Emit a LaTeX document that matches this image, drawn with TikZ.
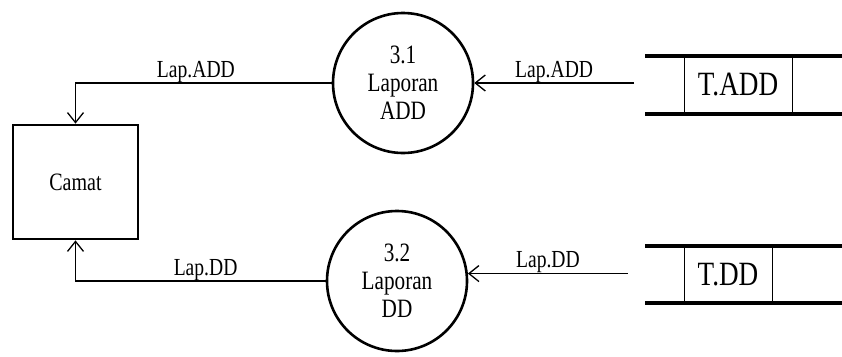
\documentclass[tikz,border=0pt]{standalone}
\usepackage{fontspec}
\setmainfont{Liberation Serif}[FakeStretch=0.8]
\usetikzlibrary{arrows.meta}
\begin{document}
\begin{tikzpicture}[x=1pt,y=-1pt,
  proc/.style={circle,draw,line width=2.6pt,minimum size=140pt,inner sep=0pt,align=center,
    font=\fontsize{26.5}{28}\selectfont},
  ent/.style={draw,line width=2.8pt,minimum width=125pt,minimum height=114pt,inner sep=0pt,
    font=\fontsize{25}{28}\selectfont},
  flow/.style={line width=1.3pt,-{Straight Barb[length=10pt,width=16pt,line width=1.3pt]}},
  lbl/.style={font=\fontsize{24.5}{26}\selectfont,inner sep=0pt,above},
  storeline/.style={line width=3.6pt},
  storebox/.style={draw,line width=1pt,inner sep=0pt,font=\fontsize{34}{36}\selectfont}]
\useasboundingbox (0,0) rectangle (842,356);
\node[ent] (camat) at (75.5,182) {Camat};
\node[proc] (p1) at (403,83) {3.1\\Laporan\\ADD};
\node[proc] (p2) at (397,281) {3.2\\Laporan\\DD};
% store T.ADD
\coordinate (s1tl) at (645,56);
\coordinate (s1tr) at (842,56);
\coordinate (s1bl) at (645,114);
\coordinate (s1br) at (842,114);
\node[storebox,minimum width=108pt,minimum height=58pt] (s1) at (738,85) {T.ADD};
\draw[storeline] (s1tl) -- (s1tr);
\draw[storeline] (s1bl) -- (s1br);
% store T.DD
\coordinate (s2tl) at (645,246);
\coordinate (s2tr) at (842,246);
\coordinate (s2bl) at (645,303);
\coordinate (s2br) at (842,303);
\node[storebox,minimum width=88pt,minimum height=57pt] (s2) at (728,274.5) {T.DD};
\draw[storeline] (s2tl) -- (s2tr);
\draw[storeline] (s2bl) -- (s2br);
% flows
\coordinate (src1) at (634,83);
\coordinate (src2) at ([xshift=160pt]p2.6);
\draw[flow] (src1) -- node[lbl]{Lap.ADD} (p1.east);
\draw[flow] (src2) -- node[lbl]{Lap.DD} (p2.6);
\draw[flow] (p1.west) -- node[lbl,pos=0.53]{Lap.ADD} (p1.west -| camat.north) -- (camat.north);
\draw[flow] (p2.west) -- node[lbl,pos=0.48]{Lap.DD} (p2.west -| camat.south) -- (camat.south);
\end{tikzpicture}
\end{document}
